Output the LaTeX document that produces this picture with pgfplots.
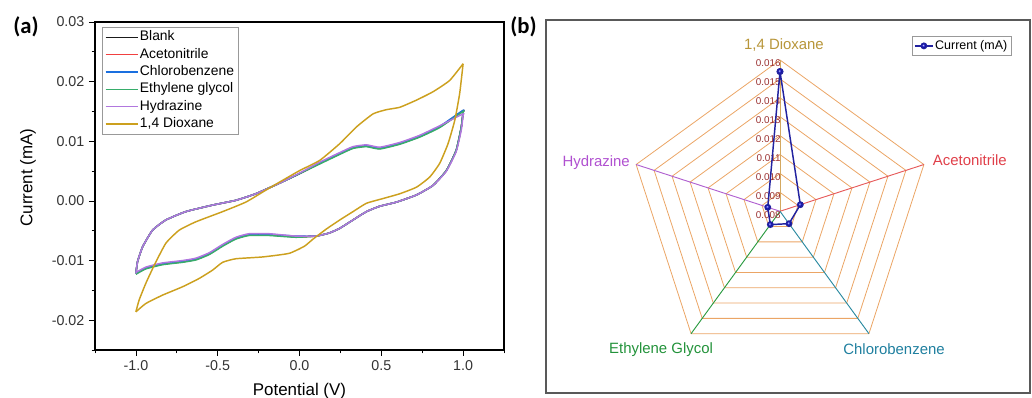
\documentclass[border=0pt]{standalone}
\usepackage{fontspec}
\setmainfont{Liberation Sans}
\newfontfamily\carlito{Carlito}
\usepackage{pgfplots}
\usepackage{pgfplotstable}
\pgfplotsset{compat=1.18}

\definecolor{cBlank}{HTML}{1A1A1A}
\definecolor{cAcn}{HTML}{F14040}
\definecolor{cCb}{HTML}{1A6FDF}
\definecolor{cEg}{HTML}{37AD6B}
\definecolor{cHz}{HTML}{B177DE}
\definecolor{cDx}{HTML}{CCA01E}
\definecolor{gridc}{HTML}{EBA565}
\definecolor{spDx}{HTML}{D4A860}
\definecolor{spAc}{HTML}{E65A5A}
\definecolor{spCb}{HTML}{2A8AA0}
\definecolor{spEg}{HTML}{2A9A40}
\definecolor{spHz}{HTML}{B060D0}
\definecolor{lbDx}{HTML}{B8963A}
\definecolor{lbAc}{HTML}{E0404A}
\definecolor{lbCb}{HTML}{1F7F9F}
\definecolor{lbEg}{HTML}{22923A}
\definecolor{lbHz}{HTML}{B050D0}
\definecolor{tickred}{HTML}{9A3030}
\definecolor{navyline}{HTML}{2222A0}

% CV loops of the five nearly identical electrolytes (x in V, current in mA)
\pgfplotstableread{
x blank acn cb eg hz
-1.000 -0.0122 -0.0122 -0.0121 -0.0123 -0.0120
-0.939 -0.0113 -0.0113 -0.0112 -0.0114 -0.0111
-0.837 -0.0106 -0.0106 -0.0105 -0.0107 -0.0104
-0.715 -0.0102 -0.0102 -0.0101 -0.0103 -0.0100
-0.633 -0.0098 -0.0098 -0.0097 -0.0099 -0.0096
-0.552 -0.0089 -0.0089 -0.0088 -0.0090 -0.0087
-0.470 -0.0075 -0.0075 -0.0074 -0.0076 -0.0073
-0.389 -0.0063 -0.0063 -0.0062 -0.0064 -0.0061
-0.308 -0.0057 -0.0057 -0.0056 -0.0058 -0.0055
-0.186 -0.0057 -0.0057 -0.0056 -0.0058 -0.0055
-0.023 -0.0060 -0.0060 -0.0059 -0.0061 -0.0059
0.100 -0.0059 -0.0059 -0.0059 -0.0059 -0.0059
0.180 -0.0054 -0.0054 -0.0054 -0.0054 -0.0054
0.246 -0.0046 -0.0046 -0.0046 -0.0046 -0.0046
0.327 -0.0032 -0.0032 -0.0032 -0.0032 -0.0032
0.409 -0.0018 -0.0018 -0.0018 -0.0018 -0.0018
0.490 -0.0009 -0.0009 -0.0009 -0.0009 -0.0009
0.593 -0.0002 -0.0002 -0.0002 -0.0002 -0.0002
0.715 0.0010 0.0010 0.0010 0.0010 0.0010
0.816 0.0026 0.0026 0.0026 0.0026 0.0026
0.898 0.0051 0.0051 0.0051 0.0051 0.0050
0.958 0.0085 0.0085 0.0085 0.0085 0.0083
0.989 0.0124 0.0124 0.0124 0.0124 0.0119
1.000 0.0149 0.0149 0.0149 0.0149 0.0144
1.000 0.0151 0.0151 0.0152 0.0150 0.0146
0.857 0.0124 0.0124 0.0125 0.0123 0.0126
0.735 0.0108 0.0108 0.0109 0.0107 0.0110
0.613 0.0096 0.0096 0.0097 0.0095 0.0098
0.490 0.0088 0.0088 0.0089 0.0087 0.0090
0.409 0.0092 0.0092 0.0093 0.0091 0.0094
0.327 0.0089 0.0089 0.0090 0.0088 0.0091
0.246 0.0079 0.0079 0.0080 0.0078 0.0081
0.124 0.0063 0.0063 0.0064 0.0062 0.0065
0.002 0.0046 0.0046 0.0046 0.0046 0.0047
-0.120 0.0030 0.0030 0.0030 0.0030 0.0030
-0.267 0.0012 0.0012 0.0012 0.0012 0.0012
-0.389 0.0001 0.0001 0.0001 0.0001 0.0001
-0.531 -0.0007 -0.0007 -0.0007 -0.0007 -0.0007
-0.695 -0.0018 -0.0018 -0.0018 -0.0018 -0.0018
-0.817 -0.0032 -0.0032 -0.0032 -0.0032 -0.0032
-0.898 -0.0049 -0.0049 -0.0049 -0.0049 -0.0049
-0.959 -0.0077 -0.0077 -0.0077 -0.0077 -0.0077
-0.990 -0.0102 -0.0102 -0.0102 -0.0102 -0.0102
-1.000 -0.0122 -0.0122 -0.0122 -0.0122 -0.0122
}\cvtab

% 1,4 Dioxane loop: lower branch and upper branch
\pgfplotstableread{
x y
-1.000 -0.0186
-0.939 -0.0172
-0.837 -0.0158
-0.715 -0.0144
-0.613 -0.0130
-0.531 -0.0116
-0.470 -0.0103
-0.389 -0.0097
-0.226 -0.0094
-0.064 -0.0088
0.030 -0.0076
0.083 -0.0064
0.165 -0.0047
0.246 -0.0032
0.327 -0.0018
0.409 -0.0004
0.511 0.0004
0.613 0.0012
0.715 0.0023
0.796 0.0040
0.857 0.0063
0.908 0.0096
0.949 0.0135
0.979 0.0180
1.000 0.0230
}\dxlow
\pgfplotstableread{
x y
1.000 0.0230
0.918 0.0202
0.816 0.0183
0.715 0.0169
0.613 0.0157
0.532 0.0153
0.450 0.0146
0.348 0.0124
0.246 0.0096
0.124 0.0068
0.002 0.0051
-0.100 0.0035
-0.206 0.0018
-0.328 -0.0002
-0.470 -0.0018
-0.633 -0.0035
-0.735 -0.0049
-0.817 -0.0071
-0.888 -0.0108
-0.939 -0.0138
-0.980 -0.0166
-1.000 -0.0186
}\dxup

% radar chart: angle of spoke (deg), current (mA)
\pgfplotstableread{
a r
90 0.01539
18 0.00913
-54 0.00881
-126 0.00887
162 0.00868
90 0.01539
}\radar

% pentagon vertices (spoke angles) for the grid rings
\pgfplotstableread{
a u
90 1
18 1
-54 1
-126 1
162 1
90 1
}\pent

\begin{document}
\begin{tikzpicture}
\useasboundingbox (0,0) rectangle (774pt,298.5pt);

% ---------------- (a) ----------------
\begin{axis}[
  at={(71.25pt,36pt)}, anchor=south west,
  scale only axis, width=306.75pt, height=246pt,
  xmin=-1.25, xmax=1.25, ymin=-0.025, ymax=0.03,
  xtick={-1,-0.5,0,0.5,1},
  minor xtick={-1.25,-0.75,-0.25,0.25,0.75,1.25},
  ytick={-0.02,-0.01,0,0.01,0.02,0.03},
  minor ytick={-0.025,-0.015,-0.005,0.005,0.015,0.025},
  tick align=outside, tick pos=left,
  major tick length=4.5pt, minor tick length=2.5pt,
  every tick/.style={black, line width=0.6pt},
  axis line style={line width=0.8pt},
  scaled y ticks=false,
  /pgf/number format/assume math mode=true,
  x tick label style={/pgf/number format/fixed, /pgf/number format/precision=1, /pgf/number format/fixed zerofill},
  y tick label style={/pgf/number format/fixed, /pgf/number format/precision=2, /pgf/number format/fixed zerofill},
  tick label style={font=\fontsize{10.7}{12}\selectfont, text=black!80},
  label style={font=\fontsize{12.7}{15}\selectfont},
  xlabel={Potential (V)}, ylabel={Current (mA)},
  x label style={at={(axis description cs:0.5,-0.138)}, anchor=base},
  y label style={at={(axis description cs:-0.164,0.526)}, anchor=center},
  legend style={at={(axis description cs:0.017,0.985)}, anchor=north west,
    draw=gray!80, font=\fontsize{10.4}{12}\selectfont,
    inner xsep=2pt, inner ysep=1.5pt, row sep=0.8pt,
    nodes={inner sep=1.2pt, text height=7.6pt, text depth=2.2pt},
    cells={anchor=west}},
  legend image code/.code={\draw[#1] (0pt,0pt) -- (24pt,0pt);},
  every axis plot/.append style={line width=1.1pt, line join=round, smooth, tension=0.3},
]
\addplot[cBlank] table[x=x, y=blank] {\cvtab}; \addlegendentry{Blank}
\addplot[cAcn] table[x=x, y=acn] {\cvtab}; \addlegendentry{Acetonitrile}
\addplot[cCb] table[x=x, y=cb] {\cvtab}; \addlegendentry{Chlorobenzene}
\addplot[cEg] table[x=x, y=eg] {\cvtab}; \addlegendentry{Ethylene glycol}
\addplot[cHz] table[x=x, y=hz] {\cvtab}; \addlegendentry{Hydrazine}
\addplot[cDx] table[x=x, y=y] {\dxlow}; \addlegendentry{1,4 Dioxane}
\addplot[cDx, forget plot] table[x=x, y=y] {\dxup};
\end{axis}

% ---------------- (b) ----------------
\begin{axis}[
  at={(409.5pt,3.75pt)}, anchor=south west,
  scale only axis, width=363pt, height=279.75pt,
  xmin=-12.374, xmax=13.22, ymin=-9.609, ymax=10.116,
  xtick=\empty, ytick=\empty, clip=false,
  axis line style={draw=black!65, line width=0.8pt},
  legend style={at={(axis description cs:0.961,0.957)}, anchor=north east,
    draw=gray!80, font=\fontsize{9.35}{11}\selectfont,
    inner xsep=1.5pt, inner ysep=1.5pt,
    nodes={inner sep=1.2pt, text height=7pt, text depth=2pt}},
  legend image code/.code={\draw[mark repeat=2,mark phase=2,#1] plot coordinates {(0pt,0pt) (6.75pt,0pt) (13.5pt,0pt)};},
]
\pgfplotsinvokeforeach{1,...,8}{
  \addplot[gridc, line width=0.6pt, forget plot] table[x expr={#1*\thisrow{u}*cos(\thisrow{a})}, y expr={#1*\thisrow{u}*sin(\thisrow{a})}] {\pent};
}
\addplot[spDx, line width=0.7pt, forget plot] coordinates {(0,0) (0,8)};
\addplot[spAc, line width=0.7pt, forget plot] coordinates {(0,0) (7.6085,2.4721)};
\addplot[spCb, line width=0.7pt, forget plot] coordinates {(0,0) (4.7023,-6.4721)};
\addplot[spEg, line width=0.7pt, forget plot] coordinates {(0,0) (-4.7023,-6.4721)};
\addplot[spHz, line width=0.7pt, forget plot] coordinates {(0,0) (-7.6085,2.4721)};

\node[anchor=east, inner sep=0pt, text=tickred, font=\fontsize{7.4}{8}\selectfont] at (axis cs:0.05,7.82) {0.016};
\node[anchor=east, inner sep=0pt, text=tickred, font=\fontsize{7.4}{8}\selectfont] at (axis cs:0.05,6.82) {0.015};
\node[anchor=east, inner sep=0pt, text=tickred, font=\fontsize{7.4}{8}\selectfont] at (axis cs:0.05,5.82) {0.014};
\node[anchor=east, inner sep=0pt, text=tickred, font=\fontsize{7.4}{8}\selectfont] at (axis cs:0.05,4.82) {0.013};
\node[anchor=east, inner sep=0pt, text=tickred, font=\fontsize{7.4}{8}\selectfont] at (axis cs:0.05,3.82) {0.012};
\node[anchor=east, inner sep=0pt, text=tickred, font=\fontsize{7.4}{8}\selectfont] at (axis cs:0.05,2.82) {0.011};
\node[anchor=east, inner sep=0pt, text=tickred, font=\fontsize{7.4}{8}\selectfont] at (axis cs:0.05,1.82) {0.010};
\node[anchor=east, inner sep=0pt, text=tickred, font=\fontsize{7.4}{8}\selectfont] at (axis cs:0.05,0.82) {0.009};
\node[anchor=east, inner sep=0pt, text=tickred, font=\fontsize{7.4}{8}\selectfont] at (axis cs:0.05,-0.18) {0.008};

\node[text=lbDx, font=\fontsize{11.2}{13}\selectfont] at (axis cs:0.21,8.79) {1,4 Dioxane};
\node[anchor=west, inner sep=0pt, text=lbAc, font=\fontsize{11.2}{13}\selectfont] at (axis cs:8.07,2.71) {Acetonitrile};
\node[anchor=east, inner sep=0pt, text=lbHz, font=\fontsize{11.2}{13}\selectfont] at (axis cs:-7.93,2.57) {Hydrazine};
\node[text=lbEg, font=\fontsize{11.2}{13}\selectfont] at (axis cs:-6.29,-7.33) {Ethylene Glycol};
\node[text=lbCb, font=\fontsize{11.2}{13}\selectfont] at (axis cs:6.03,-7.28) {Chlorobenzene};

\addplot[navyline, line width=1.1pt, mark=ball, mark size=2pt, mark options={ball color=blue!85!black}]
  table[x expr={(\thisrow{r}-0.008)*1000*cos(\thisrow{a})}, y expr={(\thisrow{r}-0.008)*1000*sin(\thisrow{a})}] {\radar};
\addlegendentry{Current (mA)}
\end{axis}

\node[anchor=north west, inner sep=0pt, font=\carlito\bfseries\fontsize{17}{20}\selectfont] at (9.75pt,286pt) {(a)};
\node[anchor=north west, inner sep=0pt, font=\carlito\bfseries\fontsize{17}{20}\selectfont] at (382.5pt,286pt) {(b)};
\end{tikzpicture}
\end{document}
